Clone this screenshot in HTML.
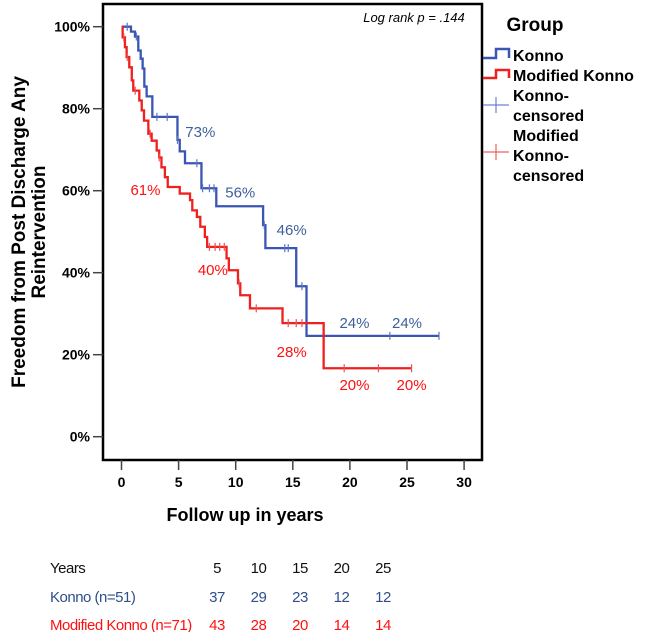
<!DOCTYPE html>
<html><head><meta charset="utf-8">
<style>
body{margin:0;background:#fff;width:645px;height:632px;overflow:hidden;font-family:"Liberation Sans",Arial,sans-serif;}
svg{display:block}
</style></head>
<body>
<svg id="chart" width="645" height="632" xmlns="http://www.w3.org/2000/svg">
<rect x="103" y="4" width="379" height="456" fill="none" stroke="#000" stroke-width="2.5"/>
<g id="axes"></g>
<g id="curves"></g>
<text x="414" y="22" font-size="13" font-style="italic" text-anchor="middle">Log rank p = .144</text>
<g font-weight="bold" font-size="19" text-anchor="middle">
<text transform="translate(25,232) rotate(-90)">Freedom from Post Discharge Any</text>
<text transform="translate(45,232) rotate(-90)">Reintervention</text>
</g>
<text x="245" y="521" font-size="18" font-weight="bold" text-anchor="middle">Follow up in years</text>
<g font-size="16" font-weight="bold">
<text x="535" y="31" font-size="19" text-anchor="middle">Group</text>
<g><path d="M483,58 H496 V49 H509 V58" fill="none" stroke="#3a55b4" stroke-width="2.5"/><text x="513" y="61">Konno</text></g>
<g><path d="M483,78 H496 V70 H509 V78" fill="none" stroke="#ee2020" stroke-width="2.5"/><text x="513" y="81">Modified Konno</text></g>
<g><path d="M483,105 H509 M496,97 V113" stroke="#6b83d0" stroke-width="1.2"/><text x="513" y="101">Konno-</text><text x="513" y="121">censored</text></g>
<g><path d="M483,152 H509 M496,144 V160" stroke="#f06060" stroke-width="1.2"/><text x="513" y="141">Modified</text><text x="513" y="161">Konno-</text><text x="513" y="181">censored</text></g>
</g>
<g font-size="15" letter-spacing="-0.5">
<text x="50" y="573" fill="#111">Years</text>
<text x="50" y="602" fill="#2f4f8a">Konno (n=51)</text>
<text x="50" y="630" fill="#ff1010">Modified Konno (n=71)</text>
<g id="risk" text-anchor="middle"></g>
</g>
</svg>
<script>
const blueTimes=[0,0.83,1.18,1.47,1.68,1.85,2.0,2.2,2.7,4.9,5.1,5.56,7.0,8.3,12.4,12.6,15.3,16.2];
const blueVals=[100,98.8,97.6,94.2,92.2,89.8,85.4,83,78,72.4,69.6,66.7,60.6,56.2,51.6,46,36.7,24.6];
const blueEnd=27.8;
const blueCensor=[0.5,1.3,3.1,4.0,4.9,6.6,7.1,7.7,8.1,12.5,14.3,14.6,15.8,23.5,27.8];
const redTimes=[0,0.1,0.3,0.45,0.68,0.9,1.03,1.56,1.77,1.97,2.35,2.64,3.08,3.3,3.5,3.8,4.05,5.1,6.0,6.2,6.6,6.9,7.3,7.5,9.2,9.4,10.2,10.4,11.25,14.1,17.7];
const redVals=[100,97.4,95,92.6,90.1,86.9,84.4,82,79.6,77.1,73.9,72.2,69.8,68.1,65.7,63.3,60.9,59.3,57.7,55.2,53.6,51.2,48.7,46.3,43.5,40.6,37.4,34.5,31.3,27.7,16.7];
const redEnd=25.4;
const redCensor=[0.2,0.5,1.2,2.5,3.3,7.7,8.2,8.6,9.0,10.3,11.8,14.6,15.3,15.8,19.5,22.5,25.4];
const xTicks=[0,5,10,15,20,25,30];
const yTicks=[0,20,40,60,80,100];
const blueLabels=[[5,73],[10,56],[15,46],[20,24],[25,24]];
const redLabels=[[5,61],[10,40],[15,28],[20,20],[25,20]];
const blueLabelPos=[[6.9,73.1],[10.4,58.4],[14.9,49.2],[20.4,26.5],[25.0,26.5]];
const redLabelPos=[[2.1,58.9],[8.0,39.4],[14.9,19.4],[20.4,11.4],[25.4,11.4]];
const riskYears=[5,10,15,20,25];
const riskKonno=[37,29,23,12,12];
const riskMod=[43,28,20,14,14];

const X=t=>121.5+t*11.42;
const Y=v=>436.7-v*4.1;
const NS="http://www.w3.org/2000/svg";
function mk(tag,attrs,parent){const e=document.createElementNS(NS,tag);for(const k in attrs)e.setAttribute(k,attrs[k]);parent.appendChild(e);return e;}
const axes=document.getElementById('axes');
xTicks.forEach(t=>{
  const l=mk('line',{x1:X(t),x2:X(t),y1:460,y2:470,stroke:'#444','stroke-width':1.5},axes);
  
  
  const tx=mk('text',{x:X(t),y:487,'font-size':14,'font-weight':'bold','text-anchor':'middle'},axes);
  tx.textContent=t;
  
  
});
yTicks.forEach(v=>{
  const l=mk('line',{x1:93,x2:103,y1:Y(v),y2:Y(v),stroke:'#444','stroke-width':1.5},axes);
  
  
  const tx=mk('text',{x:90,y:Y(v)+5,'font-size':14,'font-weight':'bold','text-anchor':'end'},axes);
  tx.textContent=v+'%';
  
  
});
const curves=document.getElementById('curves');
function step(times,vals,end){
  let d='M'+X(times[0])+','+Y(vals[0]);
  for(let i=1;i<times.length;i++){d+=' H'+X(times[i])+' V'+Y(vals[i]);}
  d+=' H'+X(end);return d;
}
function valAt(times,vals,t){let v=vals[0];for(let i=0;i<times.length;i++){if(times[i]<=t)v=vals[i];}return v;}
function draw(times,vals,end,cens,color,ccol,name){
  const p=mk('path',{d:step(times,vals,end),fill:'none',stroke:color,'stroke-width':2.3},curves);
  
  
  cens.forEach(t=>{
    const v=valAt(times,vals,t);
    const c=mk('path',{d:'M'+X(t)+','+(Y(v)-4)+' V'+(Y(v)+4),stroke:ccol,'stroke-width':1.2},curves);
    
    
  });
}
draw(blueTimes,blueVals,blueEnd,blueCensor,'#3a55b4','#5a74c8','konno');
draw(redTimes,redVals,redEnd,redCensor,'#ee2020','#f05050','modified-konno');
function labels(arr,pos,col,name){
  arr.forEach((a,i)=>{
    const t=mk('text',{x:X(pos[i][0]),y:Y(pos[i][1]),'font-size':15,fill:col,'text-anchor':'middle'},curves);
    t.textContent=a[1]+'%';
    
    
  });
}
labels(blueLabels,blueLabelPos,'#3e5f9a','konno');
labels(redLabels,redLabelPos,'#ff1010','modified-konno');
const risk=document.getElementById('risk');
const colX=y=>217+(y-5)*8.3;
riskYears.forEach((yr,i)=>{
  const a=mk('text',{x:colX(yr),y:573,fill:'#111'},risk);a.textContent=yr;
  
  
  const b=mk('text',{x:colX(yr),y:602,fill:'#2f4f8a'},risk);b.textContent=riskKonno[i];
  
  
  const c=mk('text',{x:colX(yr),y:630,fill:'#ff1010'},risk);c.textContent=riskMod[i];
  
  
});
</script>
</body></html>
